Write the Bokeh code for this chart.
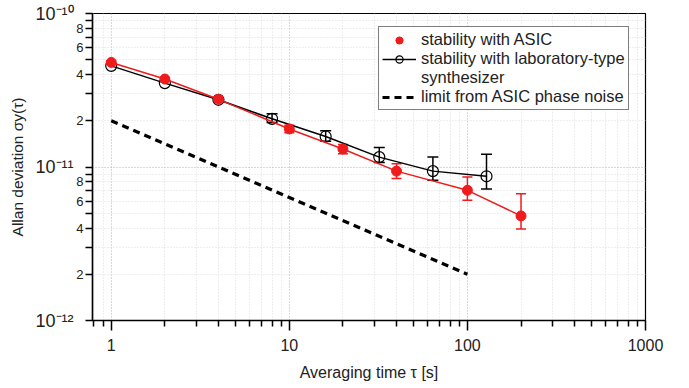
import numpy as np
from bokeh.plotting import figure
from bokeh.models import (FixedTicker, CustomJSTickFormatter, NumeralTickFormatter, Whisker,
                          TeeHead, ColumnDataSource, Legend, LegendItem, Range1d, LogAxis)
from bokeh.embed import file_html
from bokeh.resources import INLINE

# ---------------- data ----------------
tau_asic = [1, 2, 4, 10, 20, 40, 100, 200]
adev_asic = [4.8e-11, 3.74e-11, 2.76e-11, 1.77e-11, 1.31e-11, 9.4e-12, 7.05e-12, 4.8e-12]
asic_upper = [4.9e-11, 3.82e-11, 2.82e-11, 1.87e-11, 1.40e-11, 1.05e-11, 8.6e-12, 6.7e-12]
asic_lower = [4.7e-11, 3.66e-11, 2.70e-11, 1.67e-11, 1.22e-11, 8.4e-12, 6.07e-12, 3.94e-12]

tau_lab = [1, 2, 4, 8, 16, 32, 64, 128]
adev_lab = [4.56e-11, 3.52e-11, 2.74e-11, 2.06e-11, 1.58e-11, 1.16e-11, 9.4e-12, 8.7e-12]
lab_upper = [4.6e-11, 3.55e-11, 2.77e-11, 2.22e-11, 1.72e-11, 1.34e-11, 1.16e-11, 1.21e-11]
lab_lower = [4.52e-11, 3.49e-11, 2.71e-11, 1.95e-11, 1.47e-11, 1.07e-11, 8.2e-12, 7.2e-12]

tau_limit = [1, 100]
adev_limit = [2e-11, 2e-12]

x_lo, x_hi = 0.785, 1000
y_lo, y_hi = 1e-12, 1e-10
x_major = [1, 10, 100, 1000]
x_minor = [0.8, 0.9] + [m * 10 ** e for e in range(0, 3) for m in range(2, 10)]
y_decades = [1e-12, 1e-11, 1e-10]
y_labeled = [m * 10.0 ** e for e in (-12, -11) for m in (2, 4, 6, 8)]
y_minor = [m * 10.0 ** e for e in (-12, -11) for m in (3, 5, 7, 9)]
y_all_minor = [m * 10.0 ** e for e in (-12, -11) for m in range(2, 10)]

FONT = "Liberation Sans"
RED = "#ee1c1c"
TXT = "#222222"

p = figure(width=689, height=388, x_axis_type="log", y_axis_type="log",
           x_range=Range1d(x_lo, x_hi), y_range=Range1d(y_lo, y_hi),
           output_backend="svg", toolbar_location=None,
           min_border_left=92, min_border_right=44, min_border_top=13, min_border_bottom=68)
p.outline_line_color = "black"
p.outline_line_width = 1.2
p.background_fill_color = "white"
p.border_fill_color = "white"

# x axis
xa = p.xaxis[0]
xa.ticker = FixedTicker(ticks=x_major, minor_ticks=x_minor)
xa.formatter = NumeralTickFormatter(format="0")
xa.major_tick_out = 10
xa.major_tick_in = 0
xa.minor_tick_out = 6
xa.minor_tick_in = 0
xa.major_label_standoff = 8
xa.major_label_text_font = FONT
xa.major_label_text_font_size = "16px"
xa.major_label_text_color = TXT
xa.axis_label = "Averaging time τ [s]"
xa.axis_label_text_font = FONT
xa.axis_label_text_font_size = "16px"
xa.axis_label_text_font_style = "normal"
xa.axis_label_text_color = TXT
xa.axis_label_standoff = 10
xa.axis_line_width = 1.5
xa.major_tick_line_width = 1.5
xa.minor_tick_line_width = 1.5

# inner y axis: ticks and the 2/4/6/8 labels
ya = p.yaxis[0]
ya.ticker = FixedTicker(ticks=y_decades + y_labeled, minor_ticks=y_minor)
ya.formatter = CustomJSTickFormatter(code="""
const e = Math.floor(Math.log10(tick) + 1e-6);
const m = Math.round(tick / Math.pow(10, e));
return m === 1 ? "" : String(m);
""")
ya.major_tick_out = 7
ya.major_tick_in = 0
ya.minor_tick_out = 7
ya.minor_tick_in = 0
ya.major_label_standoff = 2
ya.major_label_text_font = FONT
ya.major_label_text_font_size = "13px"
ya.major_label_text_color = TXT
ya.axis_line_width = 1.5
ya.major_tick_line_width = 1.5
ya.minor_tick_line_width = 1.5

# outer y axis: decade labels 10^n and the axis title
ya2 = LogAxis(ticker=FixedTicker(ticks=y_decades, minor_ticks=[]),
              formatter=CustomJSTickFormatter(code="""
const sup = {"-": "\u207b", "0": "\u2070", "1": "\u00b9", "2": "\u00b2", "3": "\u00b3",
             "4": "\u2074", "5": "\u2075", "6": "\u2076", "7": "\u2077", "8": "\u2078", "9": "\u2079"};
const e = String(Math.round(Math.log10(tick)));
return "10" + e.split("").map(c => sup[c]).join("");
"""))
ya2.axis_line_color = None
ya2.major_tick_line_color = None
ya2.minor_tick_line_color = None
ya2.major_tick_out = 0
ya2.major_tick_in = 0
ya2.minor_tick_out = 0
ya2.minor_tick_in = 0
ya2.major_label_standoff = 0
ya2.major_label_text_font = FONT
ya2.major_label_text_font_size = "18px"
ya2.major_label_text_color = TXT
ya2.axis_label = "Allan deviation σy(τ)"
ya2.axis_label_text_font = FONT
ya2.axis_label_text_font_size = "15.5px"
ya2.axis_label_text_font_style = "normal"
ya2.axis_label_text_color = TXT
ya2.axis_label_standoff = 6
p.add_layout(ya2, "left")

# grids
p.xgrid.ticker = FixedTicker(ticks=x_major, minor_ticks=x_minor)
p.ygrid.ticker = FixedTicker(ticks=y_decades, minor_ticks=y_all_minor)
for g in (p.xgrid[0], p.ygrid[0]):
    g.grid_line_color = "#b0b0b0"
    g.grid_line_dash = "1 2"
    g.grid_line_width = 1
    g.minor_grid_line_color = "#dcdcdc"
    g.minor_grid_line_dash = "1 2"
    g.minor_grid_line_width = 1

# data
src_asic = ColumnDataSource(dict(x=tau_asic, y=adev_asic, up=asic_upper, lo=asic_lower))
src_lab = ColumnDataSource(dict(x=tau_lab, y=adev_lab, up=lab_upper, lo=lab_lower))
src_lab_err = ColumnDataSource(dict(x=tau_lab[3:], up=lab_upper[3:], lo=lab_lower[3:]))

limit_r = p.line(tau_limit, adev_limit, line_color="black", line_width=3.2, line_dash="7 5")

p.add_layout(Whisker(base="x", upper="up", lower="lo", source=src_lab_err, dimension="height",
                     line_color="black", line_width=1.5,
                     upper_head=TeeHead(size=11, line_color="black", line_width=1.5),
                     lower_head=TeeHead(size=11, line_color="black", line_width=1.5)))
p.add_layout(Whisker(base="x", upper="up", lower="lo", source=src_asic, dimension="height",
                     line_color=RED, line_width=1.5,
                     upper_head=TeeHead(size=10, line_color=RED, line_width=1.5),
                     lower_head=TeeHead(size=10, line_color=RED, line_width=1.5)))

lab_line = p.line("x", "y", source=src_lab, line_color="black", line_width=1.5)
lab_pts = p.scatter("x", "y", source=src_lab, size=11, marker="circle",
                    fill_color=None, line_color="black", line_width=1.2)

asic_line = p.line("x", "y", source=src_asic, line_color=RED, line_width=1.5)
asic_pts = p.scatter("x", "y", source=src_asic, size=10, marker="circle",
                     fill_color=RED, line_color=RED)

dummy = p.line(x=[], y=[], line_alpha=0)

legend = Legend(items=[
    LegendItem(label="stability with ASIC", renderers=[asic_pts]),
    LegendItem(label="stability with laboratory-type", renderers=[lab_line, lab_pts]),
    LegendItem(label="synthesizer", renderers=[dummy]),
    LegendItem(label="limit from ASIC phase noise", renderers=[limit_r]),
], location=(286, 210))
legend.label_text_font = FONT
legend.label_text_font_size = "16.5px"
legend.label_text_color = TXT
legend.glyph_width = 34
legend.glyph_height = 18
legend.label_height = 18
legend.spacing = 0
legend.padding = 3
legend.margin = 0
legend.label_standoff = 5
legend.border_line_color = "black"
legend.border_line_width = 1.5
legend.background_fill_alpha = 1
p.add_layout(legend, "center")

open("out.html", "w").write(file_html(p, INLINE))
